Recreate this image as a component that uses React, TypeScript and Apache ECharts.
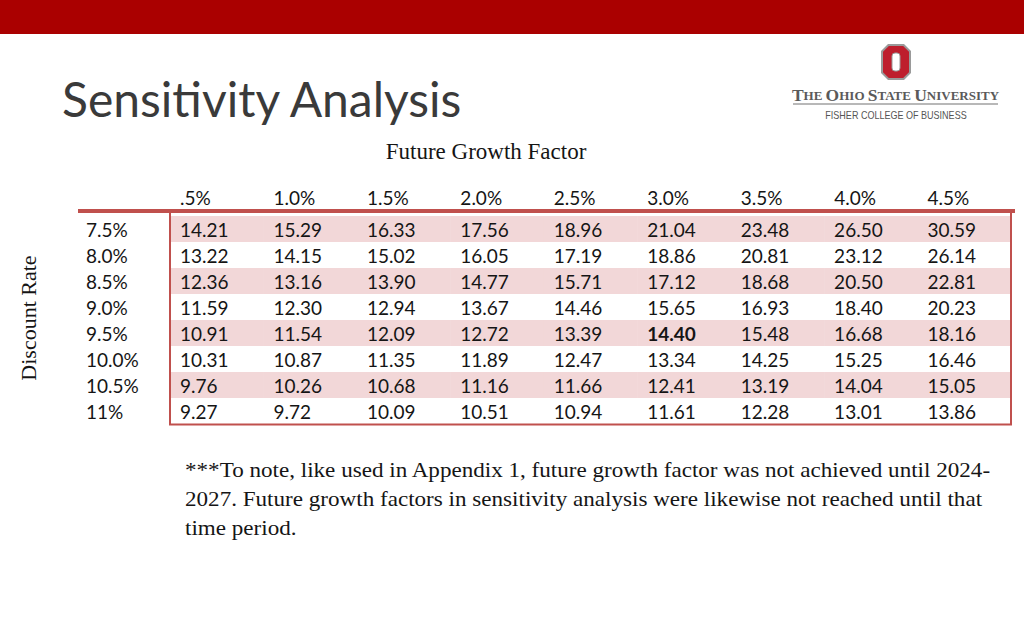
import React, { useEffect, useRef } from "react";
import * as echarts from "echarts";

const growthRates = [".5%", "1.0%", "1.5%", "2.0%", "2.5%", "3.0%", "3.5%", "4.0%", "4.5%"];
const discountRates = ["7.5%", "8.0%", "8.5%", "9.0%", "9.5%", "10.0%", "10.5%", "11%"];

const row75 = [14.21, 15.29, 16.33, 17.56, 18.96, 21.04, 23.48, 26.5, 30.59];
const row80 = [13.22, 14.15, 15.02, 16.05, 17.19, 18.86, 20.81, 23.12, 26.14];
const row85 = [12.36, 13.16, 13.9, 14.77, 15.71, 17.12, 18.68, 20.5, 22.81];
const row90 = [11.59, 12.3, 12.94, 13.67, 14.46, 15.65, 16.93, 18.4, 20.23];
const row95 = [10.91, 11.54, 12.09, 12.72, 13.39, 14.4, 15.48, 16.68, 18.16];
const row100 = [10.31, 10.87, 11.35, 11.89, 12.47, 13.34, 14.25, 15.25, 16.46];
const row105 = [9.76, 10.26, 10.68, 11.16, 11.66, 12.41, 13.19, 14.04, 15.05];
const row110 = [9.27, 9.72, 10.09, 10.51, 10.94, 11.61, 12.28, 13.01, 13.86];
const valueRows = [row75, row80, row85, row90, row95, row100, row105, row110];

const baseCaseGrowth = "3.0%";
const baseCaseDiscount = "9.5%";

const footnoteLines = [
  "***To note, like used in Appendix 1, future growth factor was not achieved until 2024-",
  "2027. Future growth factors in sensitivity analysis were likewise not reached until that",
  "time period.",
];

const RED = "#C0504D";
const PINK = "#F2D7D8";
const INK = "#151515";
const TABLE_FONT = "Lato";

export default function App() {
  const ref = useRef<HTMLDivElement>(null);

  useEffect(() => {
    if (!ref.current) return;
    const chart = echarts.init(ref.current, undefined, { renderer: "svg" });

    const cells: any[] = [];
    valueRows.forEach((row, r) => {
      row.forEach((v, c) => {
        const bold =
          growthRates[c] === baseCaseGrowth && discountRates[r] === baseCaseDiscount ? 1 : 0;
        cells.push([c, r, v, bold]);
      });
    });

    const option: any = {
      animation: false,
      backgroundColor: "#ffffff",
      grid: { left: 170, right: 13, top: 216, bottom: 216, containLabel: false },
      xAxis: {
        type: "category",
        data: growthRates,
        position: "top",
        axisLine: { show: false },
        axisTick: { show: false },
        splitLine: { show: false },
        axisLabel: {
          interval: 0,
          margin: 9,
          formatter: (v: string) => `{a|${v}}`,
          rich: {
            a: {
              width: 73.4,
              align: "left",
              fontSize: 19,
              fontFamily: TABLE_FONT,
              color: INK,
            },
          },
        },
      },
      yAxis: {
        type: "category",
        data: discountRates,
        inverse: true,
        axisLine: { show: false },
        axisTick: { show: false },
        splitLine: { show: false },
        axisLabel: {
          interval: 0,
          align: "left",
          margin: 84,
          fontSize: 19,
          fontFamily: TABLE_FONT,
          color: INK,
        },
      },
      series: [
        {
          type: "custom",
          data: cells,
          renderItem: (params: any, api: any) => {
            const c = api.value(0);
            const r = api.value(1);
            const v = api.value(2);
            const bold = api.value(3) === 1;
            const center = api.coord([c, r]);
            const size = api.size([1, 1]);
            const left = center[0] - size[0] / 2;
            const top = center[1] - size[1] / 2;
            return {
              type: "group",
              children: [
                {
                  type: "rect",
                  shape: { x: left, y: top, width: size[0] + 0.5, height: size[1] },
                  style: { fill: r % 2 === 0 ? PINK : "rgba(0,0,0,0)" },
                },
                {
                  type: "text",
                  style: {
                    x: left + 10,
                    y: center[1],
                    text: Number(v).toFixed(2),
                    fill: INK,
                    fontSize: 19,
                    fontFamily: TABLE_FONT,
                    fontWeight: bold ? "bold" : "normal",
                    align: "left",
                    verticalAlign: "middle",
                    textAlign: "left",
                    textVerticalAlign: "middle",
                  },
                },
              ],
            };
          },
        },
      ],
      graphic: [
        {
          type: "rect",
          shape: { x: 0, y: 0, width: 1024, height: 34 },
          style: { fill: "#AA0000" },
        },
        {
          type: "text",
          x: 62,
          y: 98,
          style: {
            text: "Sensitivity Analysis",
            fill: "#3a3a3a",
            fontSize: 48,
            fontFamily: "Lato",
            fontWeight: "normal",
            textAlign: "left",
            textVerticalAlign: "middle",
          },
        },
        // Block O logo
        {
          type: "polygon",
          shape: {
            points: [
              [888, 44], [904, 44], [911, 51], [911, 73], [904, 80], [888, 80], [881, 73], [881, 51],
            ],
          },
          style: { fill: "#9a9a9a" },
        },
        {
          type: "polygon",
          shape: {
            points: [
              [888.8, 46], [903.2, 46], [909, 51.8], [909, 72.2], [903.2, 78], [888.8, 78], [883, 72.2], [883, 51.8],
            ],
          },
          style: { fill: "#BE1E2D" },
        },
        {
          type: "rect",
          shape: { x: 892, y: 53, width: 8, height: 18, r: 3 },
          style: { fill: "#ffffff", stroke: "#9a9a9a", lineWidth: 1 },
        },
        {
          type: "text",
          x: 895.5,
          y: 95,
          style: {
            text: "{b|T}{s|HE }{b|O}{s|HIO }{b|S}{s|TATE }{b|U}{s|NIVERSITY}",
            rich: {
              b: { fontSize: 17.5, fontFamily: "Liberation Serif", fontWeight: "bold", fill: "#5a5a5a", color: "#5a5a5a" },
              s: { fontSize: 13, fontFamily: "Liberation Serif", fontWeight: "bold", fill: "#5a5a5a", color: "#5a5a5a" },
            },
            textAlign: "center",
            textVerticalAlign: "middle",
          },
        },
        {
          type: "line",
          shape: { x1: 793, y1: 104, x2: 998, y2: 104 },
          style: { stroke: "#a0a0a0", lineWidth: 1.5 },
        },
        {
          type: "text",
          x: 896,
          y: 115,
          scaleX: 0.86,
          style: {
            text: "FISHER COLLEGE OF BUSINESS",
            fill: "#555555",
            fontSize: 10.5,
            fontFamily: "Liberation Sans Narrow, Liberation Sans",
            textAlign: "center",
            textVerticalAlign: "middle",
          },
        },
        {
          type: "text",
          x: 486,
          y: 151,
          style: {
            text: "Future Growth Factor",
            fill: INK,
            fontSize: 23,
            fontFamily: "Liberation Serif",
            textAlign: "center",
            textVerticalAlign: "middle",
          },
        },
        {
          type: "text",
          x: 28,
          y: 318,
          rotation: Math.PI / 2,
          style: {
            text: "Discount Rate",
            fill: INK,
            fontSize: 22,
            fontFamily: "Liberation Serif",
            textAlign: "center",
            textVerticalAlign: "middle",
          },
        },
        {
          type: "line",
          z: 100,
          shape: { x1: 78, y1: 211, x2: 1015, y2: 211 },
          style: { stroke: RED, lineWidth: 4 },
        },
        {
          type: "polyline",
          z: 100,
          shape: { points: [[170, 212], [170, 424.5], [1011, 424.5], [1011, 212]] },
          style: { stroke: RED, lineWidth: 2, fill: "none" },
        },
        ...footnoteLines.map((t, i) => ({
          type: "text",
          x: 185,
          y: 470 + i * 29,
          scaleX: 1.05,
          style: {
            text: t,
            fill: INK,
            fontSize: 22,
            fontFamily: "Liberation Serif",
            textAlign: "left",
            textVerticalAlign: "middle",
          },
        })),
      ],
    };

    chart.setOption(option);
    return () => chart.dispose();
  }, []);

  return (
    <div
      ref={ref}
      style={{ position: "absolute", left: 0, top: 0, width: 1024, height: 640 }}
    />
  );
}
